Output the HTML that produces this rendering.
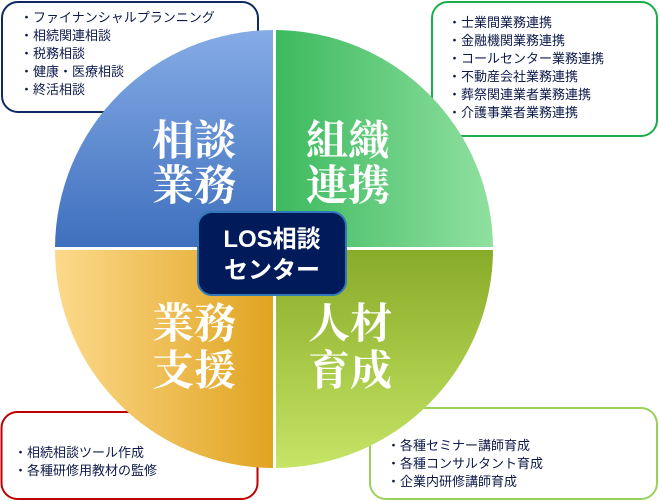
<!DOCTYPE html>
<html><head><meta charset="utf-8"><style>
html,body{margin:0;padding:0;background:#fff;width:659px;height:501px;overflow:hidden}
svg{display:block}
.li{font-family:"Liberation Sans","Noto Sans CJK JP",sans-serif;font-size:13px;fill:#0d1a4a}
.big{font-family:"Liberation Serif","Noto Serif CJK SC",serif;font-size:42px;font-weight:bold;fill:#fff}
.ctr{font-family:"Liberation Sans","Noto Sans CJK JP",sans-serif;font-size:24px;font-weight:bold;fill:#fff}
</style></head><body>
<svg width="659" height="501" viewBox="0 0 659 501" xmlns="http://www.w3.org/2000/svg">
<defs>
<linearGradient id="gtl" x1="0" y1="0" x2="0" y2="1"><stop offset="0" stop-color="#85ace6"/><stop offset="1" stop-color="#3f6fbd"/></linearGradient>
<linearGradient id="gtr" x1="0" y1="0" x2="1" y2="0"><stop offset="0" stop-color="#3dba5f"/><stop offset="1" stop-color="#90e0a0"/></linearGradient>
<linearGradient id="gbl" x1="0" y1="0" x2="1" y2="0"><stop offset="0" stop-color="#fcd98c"/><stop offset="1" stop-color="#e0a420"/></linearGradient>
<linearGradient id="gbr" x1="0" y1="0" x2="0" y2="1"><stop offset="0" stop-color="#88ab28"/><stop offset="1" stop-color="#c6e466"/></linearGradient>
</defs>
<rect x="2" y="2" width="256" height="110" rx="16" fill="#fff" stroke="#0f2a60" stroke-width="2"/>
<rect x="432" y="2" width="225" height="134" rx="16" fill="#fff" stroke="#1aae4a" stroke-width="2"/>
<rect x="1.5" y="412" width="256" height="87" rx="16" fill="#fff" stroke="#c00000" stroke-width="2"/>
<rect x="370" y="408" width="287" height="91" rx="16" fill="#fff" stroke="#9bd15a" stroke-width="2"/>
<text class="li" x="20" y="22">・ファイナンシャルプランニング</text>
<text class="li" x="20" y="40">・相続関連相談</text>
<text class="li" x="20" y="58">・税務相談</text>
<text class="li" x="20" y="76">・健康・医療相談</text>
<text class="li" x="20" y="94">・終活相談</text>
<text class="li" x="448" y="27">・士業間業務連携</text>
<text class="li" x="448" y="45">・金融機関業務連携</text>
<text class="li" x="448" y="63">・コールセンター業務連携</text>
<text class="li" x="448" y="81">・不動産会社業務連携</text>
<text class="li" x="448" y="99">・葬祭関連業者業務連携</text>
<text class="li" x="448" y="117">・介護事業者業務連携</text>
<text class="li" x="14" y="457">・相続相談ツール作成</text>
<text class="li" x="14" y="475">・各種研修用教材の監修</text>
<text class="li" x="387" y="450">・各種セミナー講師育成</text>
<text class="li" x="387" y="468">・各種コンサルタント育成</text>
<text class="li" x="387" y="486">・企業内研修講師育成</text>
<path d="M273,247 L273,30 A219,219 0 0 0 55,247 Z" fill="url(#gtl)"/>
<path d="M276,247 L276,30 A219,219 0 0 1 493,247 Z" fill="url(#gtr)"/>
<path d="M273,250 L55,250 A219,219 0 0 0 273,468 Z" fill="url(#gbl)"/>
<path d="M276,250 L493,250 A219,219 0 0 1 276,468 Z" fill="url(#gbr)"/>
<text class="big" x="152" y="155">相談</text>
<text class="big" x="152" y="200">業務</text>
<text class="big" x="306" y="155">組織</text>
<text class="big" x="306" y="200">連携</text>
<text class="big" x="152" y="338">業務</text>
<text class="big" x="152" y="385">支援</text>
<text class="big" x="308" y="338">人材</text>
<text class="big" x="308" y="385">育成</text>
<rect x="198" y="212" width="148" height="83" rx="14" fill="#001a5a" stroke="#2f79b8" stroke-width="2"/>
<text class="ctr" x="272" y="247" text-anchor="middle">LOS相談</text>
<text class="ctr" x="272" y="278" text-anchor="middle">センター</text>
</svg>
</body></html>
